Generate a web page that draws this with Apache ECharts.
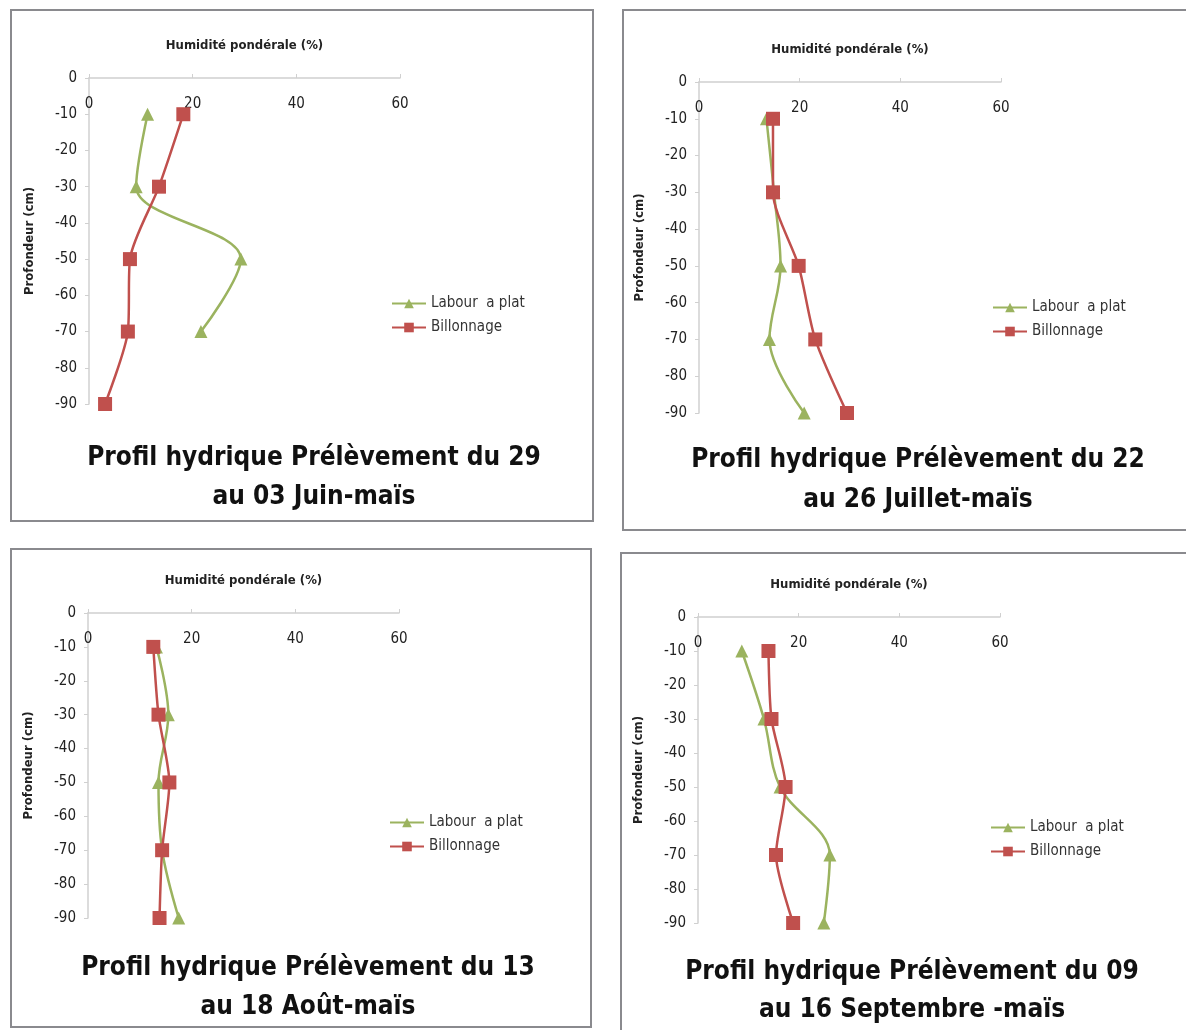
<!DOCTYPE html>
<html>
<head>
<meta charset="utf-8">
<script src="https://cdn.jsdelivr.net/npm/echarts@6/dist/echarts.min.js"></script>
<style>
  body { margin: 0; background: #fff; width: 1186px; height: 1030px; overflow: hidden; position: relative; }
  .panel { position: absolute; border: 2px solid #8a8a8e; box-sizing: border-box; background: #fff; }
</style>
</head>
<body>
<div class="panel" id="p1" style="left:10px;top:9px;width:584px;height:513px"></div>
<div class="panel" id="p2" style="left:622px;top:9px;width:580px;height:522px"></div>
<div class="panel" id="p3" style="left:10px;top:548px;width:582px;height:480px"></div>
<div class="panel" id="p4" style="left:620px;top:552px;width:580px;height:490px"></div>
<script>
// depth of each sample (cm)
var depths = [-10, -30, -50, -70, -90];
var xTicks = [0, 20, 40, 60];
var seriesNames = ['Labour  a plat', 'Billonnage'];

// humidité pondérale (%) per campaign
var labourJuin = [11.3, 9.1, 29.3, 21.6, null];
var billonJuin = [18.2, 13.5, 7.9, 7.5, 3.1];
var labourJuillet = [13.4, 14.9, 16.2, 14.0, 20.9];
var billonJuillet = [14.7, 14.7, 19.8, 23.1, 29.4];
var labourAout = [13.2, 15.5, 13.6, 14.3, 17.5];
var billonAout = [12.6, 13.6, 15.7, 14.3, 13.8];
var labourSept = [8.7, 13.1, 16.3, 26.2, 25.0];
var billonSept = [14.0, 14.6, 17.4, 15.5, 18.9];

var titles = [
  ['Profil hydrique Prélèvement du 29', 'au 03 Juin-maïs'],
  ['Profil hydrique Prélèvement du 22', 'au 26 Juillet-maïs'],
  ['Profil hydrique Prélèvement du 13', 'au 18 Août-maïs'],
  ['Profil hydrique Prélèvement du 09', 'au 16 Septembre -maïs']
];

var font = "'Liberation Sans Narrow', 'DejaVu Sans Condensed', sans-serif";
var green = '#9bb35f';
var red = '#c0504d';

function pairs(vals) {
  var out = [];
  for (var i = 0; i < vals.length; i++) {
    if (vals[i] !== null) out.push([vals[i], depths[i]]);
  }
  return out;
}

// layout of each panel (relative to the panel's inner box)
var layouts = [
  { grid: [77, 67, 311, 326], title: [302, 447, 486], legend: [374, 280] },
  { grid: [75, 71, 302, 331], title: [294, 449, 489], legend: [363, 284] },
  { grid: [76, 63, 311, 305], title: [296, 418, 457], legend: [372, 260] },
  { grid: [76, 63, 302, 306], title: [290, 418, 456], legend: [363, 261] }
];
var data = [
  [labourJuin, billonJuin],
  [labourJuillet, billonJuillet],
  [labourAout, billonAout],
  [labourSept, billonSept]
];

for (var k = 0; k < 4; k++) {
  var L = layouts[k];
  var chart = echarts.init(document.getElementById('p' + (k + 1)));
  chart.setOption({
    animation: false,
    grid: { left: L.grid[0], top: L.grid[1], width: L.grid[2], height: L.grid[3] },
    legend: {
      orient: 'vertical', left: L.legend[0], top: L.legend[1],
      itemWidth: 34, itemHeight: 12, itemGap: 9,
      textStyle: { fontFamily: font, fontSize: 15, color: '#333' },
      data: seriesNames
    },
    xAxis: {
      type: 'value', position: 'top', min: 0, max: 60, interval: 20,
      name: 'Humidité pondérale (%)', nameLocation: 'middle', nameGap: 26,
      nameTextStyle: { fontFamily: font, fontSize: 13, fontWeight: 'bold', color: '#222' },
      axisLine: { lineStyle: { color: '#d0d0d0', width: 1.5 } },
      axisTick: { show: true, length: 4, lineStyle: { color: '#d0d0d0' } },
      axisLabel: { inside: true, margin: 19, fontFamily: font, fontSize: 15, color: '#222',
        formatter: function (v) { return xTicks.indexOf(v) >= 0 ? String(v) : ''; } },
      splitLine: { show: false }
    },
    yAxis: {
      type: 'value', min: -90, max: 0, interval: 10,
      name: 'Profondeur (cm)', nameLocation: 'middle', nameGap: 53, nameRotate: 90,
      nameTextStyle: { fontFamily: font, fontSize: 13, fontWeight: 'bold', color: '#222' },
      axisLine: { show: true, onZero: false, lineStyle: { color: '#d0d0d0', width: 1.5 } },
      axisTick: { show: true, length: 4, lineStyle: { color: '#d0d0d0' } },
      axisLabel: { margin: 12, fontFamily: font, fontSize: 15, color: '#222' },
      splitLine: { show: false }
    },
    series: [
      {
        name: seriesNames[0], type: 'line', smooth: 0.35,
        symbol: 'triangle', symbolSize: 13,
        itemStyle: { color: green }, lineStyle: { color: green, width: 2.5 },
        data: pairs(data[k][0])
      },
      {
        name: seriesNames[1], type: 'line', smooth: 0.25,
        symbol: 'rect', symbolSize: 14,
        itemStyle: { color: red }, lineStyle: { color: red, width: 2.5 },
        data: pairs(data[k][1])
      }
    ],
    graphic: [
      { type: 'text', x: L.title[0], y: L.title[1],
        style: { text: titles[k][0], align: 'center', verticalAlign: 'middle',
          font: 'bold 26px ' + font, fill: '#111' } },
      { type: 'text', x: L.title[0], y: L.title[2],
        style: { text: titles[k][1], align: 'center', verticalAlign: 'middle',
          font: 'bold 26px ' + font, fill: '#111' } }
    ]
  });
}
</script>
</body>
</html>
